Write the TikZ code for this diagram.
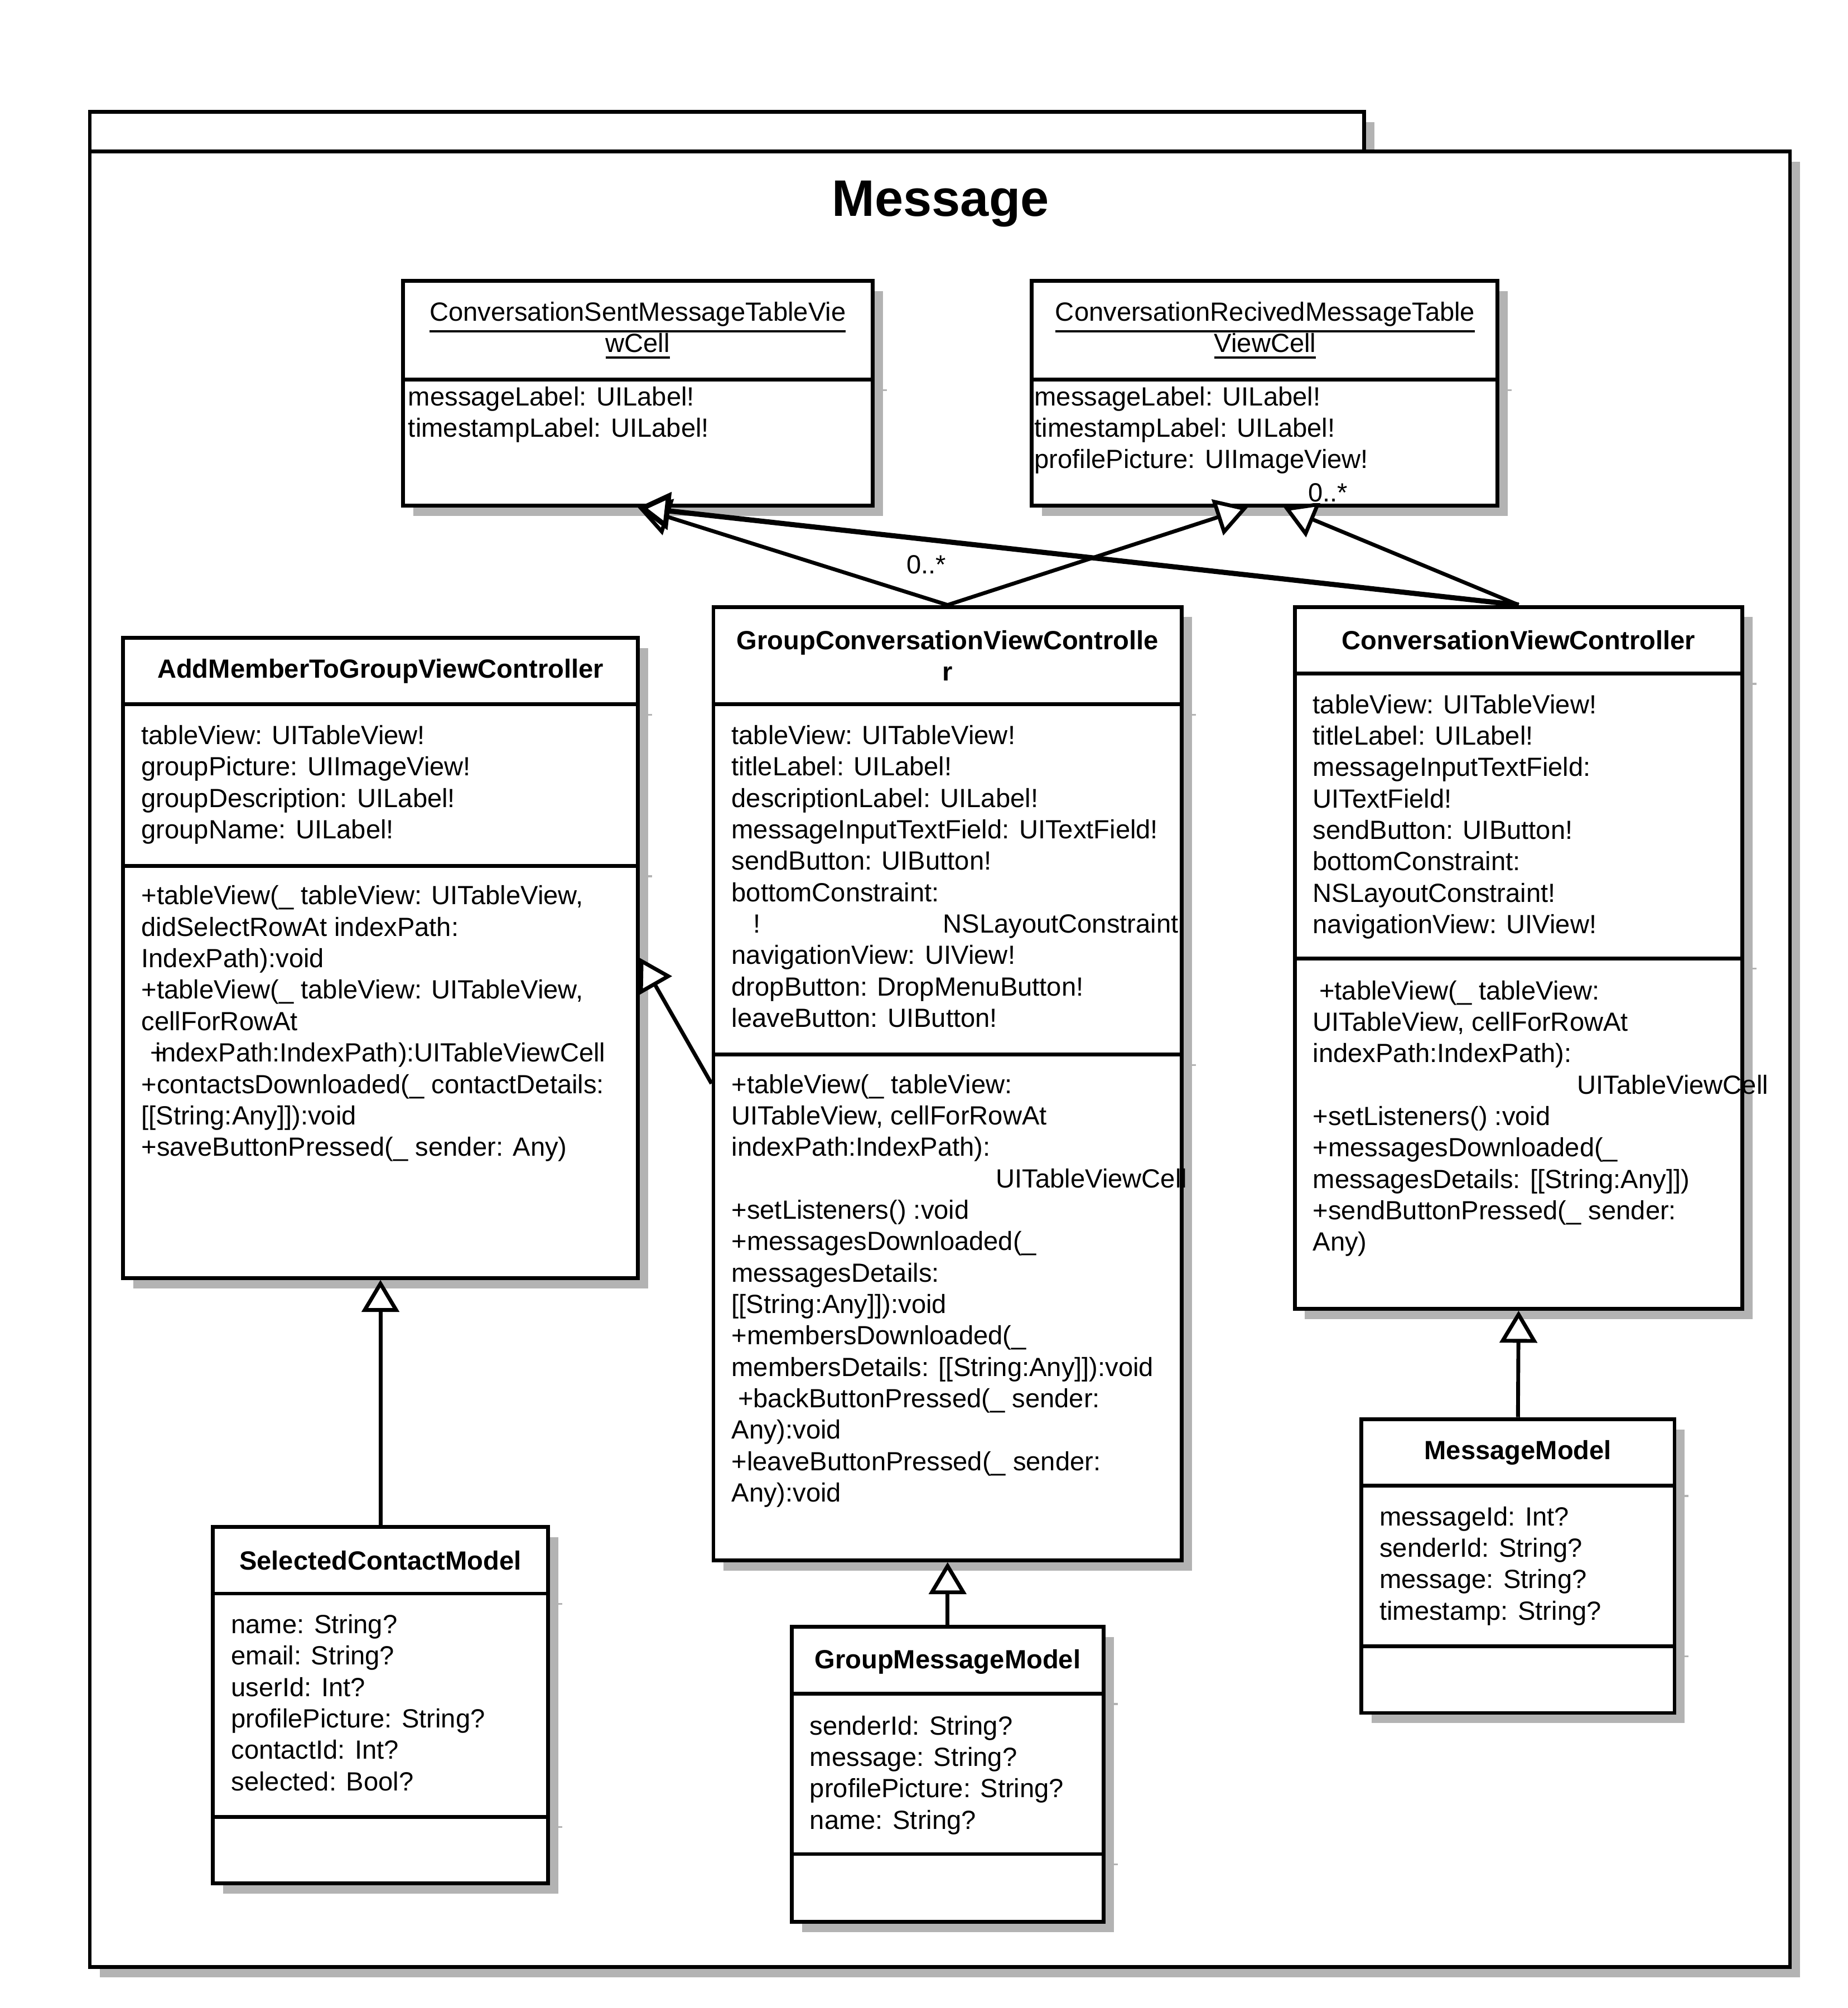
\documentclass[tikz,border=0pt]{standalone}
\usepackage{fontspec}
\setmainfont{Liberation Sans}
\usepackage{tikz}
\usetikzlibrary{arrows.meta,calc,shadows,positioning}
\definecolor{shadowgray}{HTML}{B3B3B3}
\newcommand{\ulname}[1]{\leavevmode\vtop{\hbox{#1}\kern3pt\hrule height 1.8pt}}

\begin{document}
\begin{tikzpicture}[x=1pt,y=-1pt,
  umlbox/.style={draw,line width=3pt,fill=white,inner sep=0pt,
    drop shadow={shadow xshift=8pt,shadow yshift=-8pt,fill=shadowgray,opacity=1}},
  clsname/.style={font=\bfseries\fontsize{20.5}{24.5}\selectfont,align=center,inner sep=0pt},
  cellname/.style={font=\fontsize{20.5}{24.5}\selectfont,align=center,inner sep=0pt},
  members/.style={font=\fontsize{20.5}{24.5}\selectfont,align=left,anchor=north west,inner sep=0pt,execute at begin node=\strut},
  mult/.style={font=\fontsize{20.5}{24.5}\selectfont,inner sep=1pt},
  gen/.style={line width=3pt,-{Triangle[length=25pt,width=29pt,fill=white]}}]
\useasboundingbox (0,0) rectangle (1440,1565);

% package
\node[umlbox,minimum width=993pt,minimum height=31pt] (pkgtab) at (566.5,102.5) {};
\node[umlbox,minimum width=1325pt,minimum height=1415pt] (pkg) at (732.5,825.5) {};
\node[font=\bfseries\fontsize{40}{48}\selectfont,inner sep=0pt] (pkgtitle) at (733,159) {Message};

% classes
\node[umlbox,minimum width=366pt,minimum height=175pt] (sent) at (497,306.5) {};
\node[umlbox,minimum width=363pt,minimum height=175pt] (recv) at (985.5,306.5) {};
\node[umlbox,minimum width=401pt,minimum height=499pt] (addm) at (296.5,746.5) {};
\node[umlbox,minimum width=365pt,minimum height=743pt] (gcv) at (738.5,844.5) {};
\node[umlbox,minimum width=349pt,minimum height=547pt] (cvc) at (1183.5,746.5) {};
\node[umlbox,minimum width=261pt,minimum height=278pt] (scm) at (296.5,1329) {};
\node[umlbox,minimum width=243pt,minimum height=230pt] (gmm) at (738.5,1383) {};
\node[umlbox,minimum width=244pt,minimum height=229pt] (mm) at (1183,1220.5) {};

\foreach \c/\y in {sent/296,recv/296,addm/549,addm/675,gcv/549,gcv/822,cvc/525,cvc/747,scm/1242,scm/1416,gmm/1320,gmm/1445,mm/1158,mm/1283}{
  \draw[line width=3pt] (\c.west |- 0,\y) -- (\c.east |- 0,\y);
  \draw[shadowgray,line width=1.5pt] ($(\c.east |- 0,\y)+(1.5,8)$) -- ++(8,0);
}

% texts
\node[cellname] (sent-name) at (497,257.5) {\ulname{ConversationSentMessageTableVie}\\\ulname{wCell}};
\node[members] (sent-attr) at (318,301) {messageLabel: UILabel!\\timestampLabel: UILabel!};

\node[cellname] (recv-name) at (986,257.5) {\ulname{ConversationRecivedMessageTable}\\\ulname{ViewCell}};
\node[members] (recv-attr) at (806,301) {messageLabel: UILabel!\\timestampLabel: UILabel!\\profilePicture: UIImageView!};

\node[clsname] (addm-name) at (296.5,523) {AddMemberToGroupViewController};
\node[members] (addm-attr) at (110,565) {tableView: UITableView!\\groupPicture: UIImageView!\\groupDescription: UILabel!\\groupName: UILabel!};
\node[members] (addm-ops) at (110,690) {+tableView(\_ tableView: UITableView,\\didSelectRowAt indexPath:\\IndexPath):void\\+tableView(\_ tableView: UITableView,\\cellForRowAt\\\hspace*{7pt}\rlap{+}\hspace{4pt}indexPath:IndexPath):UITableViewCell\\+contactsDownloaded(\_ contactDetails:\\{[[}String:Any]]):void\\+saveButtonPressed(\_ sender: Any)};

\node[clsname] (gcv-name) at (738.5,511) {GroupConversationViewControlle\\r};
\node[members] (gcv-attr) at (570,565) {tableView: UITableView!\\titleLabel: UILabel!\\descriptionLabel: UILabel!\\messageInputTextField: UITextField!\\sendButton: UIButton!\\bottomConstraint:\\\hspace*{17pt}!\hspace{142pt}NSLayoutConstraint\\navigationView: UIView!\\dropButton: DropMenuButton!\\leaveButton: UIButton!};
\node[members] (gcv-ops) at (570,837) {+tableView(\_ tableView:\\UITableView, cellForRowAt\\indexPath:IndexPath):\\\hspace*{206pt}UITableViewCell\\+setListeners() :void\\+messagesDownloaded(\_\\messagesDetails:\\{[[}String:Any]]):void\\+membersDownloaded(\_\\membersDetails: [[String:Any]]):void\\\hspace*{5pt}+backButtonPressed(\_ sender:\\Any):void\\+leaveButtonPressed(\_ sender:\\Any):void};

\node[clsname] (cvc-name) at (1183.5,499) {ConversationViewController};
\node[members] (cvc-attr) at (1023,541) {tableView: UITableView!\\titleLabel: UILabel!\\messageInputTextField:\\UITextField!\\sendButton: UIButton!\\bottomConstraint:\\NSLayoutConstraint!\\navigationView: UIView!};
\node[members] (cvc-ops) at (1023,764) {\hspace*{5pt}+tableView(\_ tableView:\\UITableView, cellForRowAt\\indexPath:IndexPath):\\\hspace*{206pt}UITableViewCell\\+setListeners() :void\\+messagesDownloaded(\_\\messagesDetails: [[String:Any]])\\+sendButtonPressed(\_ sender:\\Any)};

\node[clsname] (scm-name) at (296.5,1216) {SelectedContactModel};
\node[members] (scm-attr) at (180,1258) {name: String?\\email: String?\\userId: Int?\\profilePicture: String?\\contactId: Int?\\selected: Bool?};

\node[clsname] (gmm-name) at (738.5,1295) {GroupMessageModel};
\node[members] (gmm-attr) at (631,1337) {senderId: String?\\message: String?\\profilePicture: String?\\name: String?};

\node[clsname] (mm-name) at (1183,1132) {MessageModel};
\node[members] (mm-attr) at (1075,1174) {messageId: Int?\\senderId: String?\\message: String?\\timestamp: String?};

% generalizations
\draw[gen] (gcv.north) -- (sent.south);
\draw[gen,line width=4pt] (cvc.north) -- (sent.south);
\draw[gen] (gcv.north) -- ([xshift=-13pt]recv.south);
\draw[gen] (cvc.north) -- ([xshift=15pt]recv.south);
\draw[gen] (gcv.west) -- (addm.east);
\draw[gen] (scm.north) -- (addm.south);
\draw[gen] (gmm.north) -- (gcv.south);
\draw[gen] (mm.north) -- (cvc.south);
\node[mult] (mult-sent) at (722,440) {0..*};
\node[mult,fill=white] (mult-recv) at (1035,384) {0..*};
\end{tikzpicture}
\end{document}
